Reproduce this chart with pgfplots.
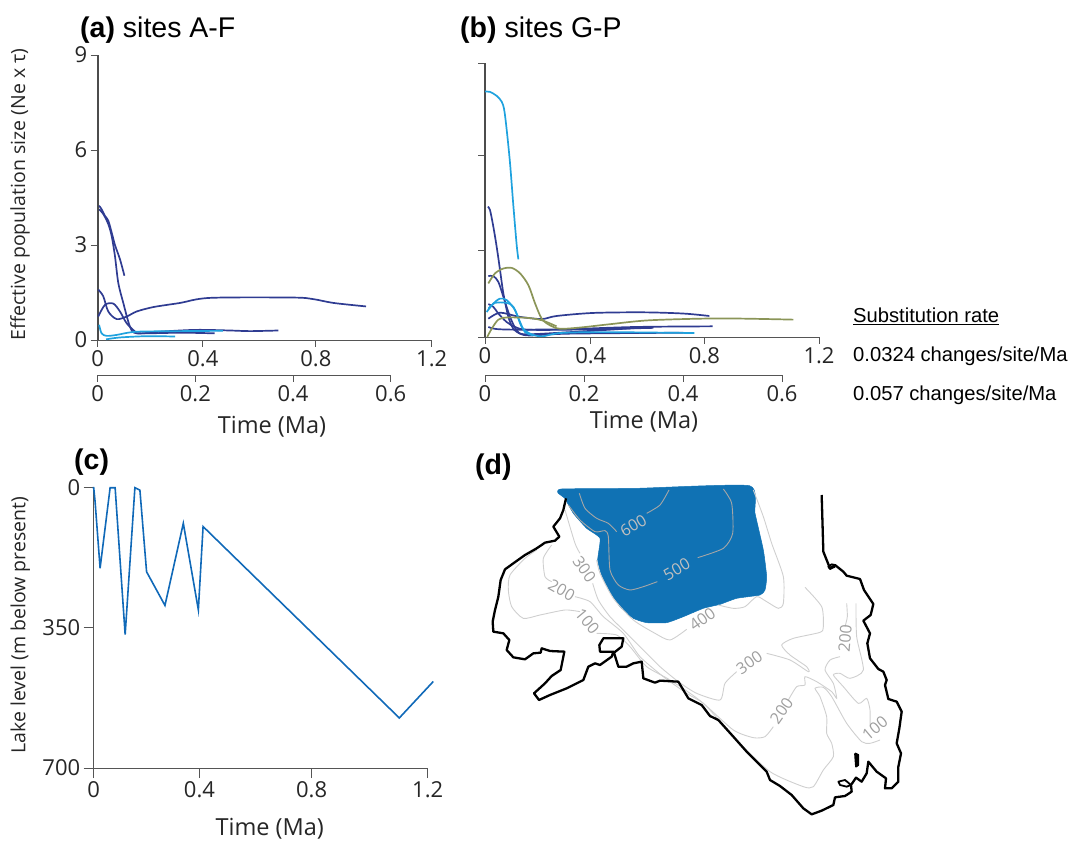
\documentclass[border=0pt]{standalone}
\usepackage{fontspec}
\usepackage{pgfplots}
\pgfplotsset{compat=1.18}
\setmainfont{Open Sans}
\newfontfamily\arialf{Liberation Sans}
\newcommand\tf{\fontsize{22}{26}\selectfont}
\newcommand\xf{\fontsize{23.5}{28}\selectfont}
\newcommand\yf{\fontsize{19.5}{24}\selectfont}
\newcommand\hf{\arialf\fontsize{28.5}{34}\selectfont}
\newcommand\lf{\arialf\fontsize{20.2}{24}\selectfont}
\newcommand\mf{\fontsize{16}{19}\selectfont}
\definecolor{dkb}{HTML}{2F3C92}
\definecolor{ltb}{HTML}{1FA2DE}
\definecolor{olv}{HTML}{8B9558}
\definecolor{lk}{HTML}{1069B8}
\definecolor{lakeb}{HTML}{1072B4}
\definecolor{cont}{HTML}{CFCFCF}
\definecolor{axg}{HTML}{555555}
\pgfplotsset{
  panel/.style={scale only axis, clip=false, axis x line=bottom, axis y line=left,
    x axis line style={-,color=axg,line width=0.9pt},
    y axis line style={-,color=black!70,line width=2.4pt},
    tick style={color=axg,line width=0.9pt}, tick align=outside,
    major tick length=7pt, minor tick length=0pt,
    tick label style={font=\tf,color=black!85},
    xlabel style={font=\xf,color=black!85},
    ylabel style={font=\yf,color=black!85},
    xmin=0,xmax=1.2},
  second/.style={scale only axis, clip=false, axis x line=bottom, axis y line=none,
    axis line style={-,color=axg,line width=0.9pt},
    tick style={color=axg,line width=0.9pt}, tick align=outside,
    major tick length=7pt,
    tick label style={font=\tf,color=black!85},
    xmin=0,xmax=0.6,ymin=0,ymax=1,height=1pt,
    xtick={0,0.2,0.4,0.6},xticklabels={0,0.2,0.4,0.6},
    ytick=\empty},
  dk/.style={color=dkb,line width=1.7pt,smooth,tension=0.5,no marks},
  lt/.style={color=ltb,line width=1.7pt,smooth,tension=0.5,no marks},
  ol/.style={color=olv,line width=1.7pt,smooth,tension=0.5,no marks},
  ct/.style={color=cont,line width=0.9pt,smooth,tension=0.4,no marks},
}
\begin{document}
\begin{tikzpicture}[x=1pt,y=1pt]
\path[use as bounding box] (0,0) rectangle (1073,843);

% ---------- panel a
\begin{axis}[panel,at={(97.7pt,503pt)},anchor=origin,width=334pt,height=285pt,
  ymin=0,ymax=9,ytick={0,3,6,9},yticklabels={0,3,6,9},
  xtick={0,0.378,0.784,1.2},xticklabels={0,0.4,0.8,1.2},
  xlabel={Time (Ma)},x label style={at={(axis description cs:0.522,-0.305)},anchor=center},
  ylabel={Effective population size (Ne x τ)},y label style={at={(axis description cs:-0.2326,0.51)},anchor=center,rotate=0}]
\addplot[dk] coordinates {(.005,4.24)(.014,4.13)(.026,3.92)(.038,3.77)(.05,3.4)(.062,3.0)(.08,2.55)(.096,2.03)};
\addplot[dk] coordinates {(.005,4.13)(.02,3.98)(.038,3.66)(.05,3.29)(.062,2.65)(.074,1.8)(.092,1.17)(.116,.42)(.14,.21)(.236,.27)(.356,.32)(.475,.3)(.547,.28)(.649,.3)};
\addplot[dk] coordinates {(.002,.74)(.026,1.11)(.056,1.15)(.08,.9)(.104,.53)(.134,.27)(.152,.21)(.3,.23)(.42,.21)};
\addplot[dk] coordinates {(.002,1.59)(.02,1.38)(.038,.9)(.068,.66)(.104,.74)(.14,.9)(.2,1.04)(.296,1.17)(.404,1.33)(.703,1.34)(.775,1.29)(.847,1.17)(.964,1.06)};
\addplot[lt] coordinates {(.005,.48)(.014,.21)(.032,.13)(.068,.16)(.116,.24)(.176,.27)(.45,.29)};
\addplot[lt] coordinates {(.03,.02)(.08,.08)(.176,.12)(.278,.11)};
\end{axis}
\begin{axis}[second,at={(97.7pt,468pt)},anchor=origin,width=293pt]
\addplot[draw=none] coordinates {(0,0)(0.6,0)};
\end{axis}

% ---------- panel b
\begin{axis}[panel,at={(485pt,506pt)},anchor=origin,width=334pt,height=274pt,
  ymin=0,ymax=9,ytick={0,2.84,5.96,9},yticklabels={,,,},
  xtick={0,0.38,0.788,1.2},xticklabels={0,0.4,0.8,1.2},
  xlabel={Time (Ma)},x label style={at={(axis description cs:0.476,-0.31)},anchor=center}]
\addplot[lt] coordinates {(0,8.06)(.018,8.05)(.042,7.92)(.06,7.73)(.069,7.46)(.078,6.8)(.09,5.7)(.102,4.3)(.114,3.0)(.12,2.55)};
\addplot[dk] coordinates {(.01,4.28)(.018,4.17)(.03,3.62)(.042,2.96)(.054,2.2)(.066,1.43)(.084,.66)(.102,.27)(.126,.11)(.162,.05)(.305,.11)(.713,.14)};
\addplot[dk] coordinates {(.012,2.0)(.03,2.0)(.048,1.81)(.066,1.32)(.09,.66)(.114,.22)(.144,.09)(.305,.16)(.605,.33)};
\addplot[dk] coordinates {(.012,1.08)(.03,.99)(.048,.77)(.078,.49)(.108,.33)(.15,.24)(.305,.24)(.605,.3)};
\addplot[dk] coordinates {(.012,.6)(.03,.71)(.054,.8)(.084,.75)(.126,.66)(.204,.59)(.257,.69)(.389,.79)(.569,.81)(.713,.77)(.806,.69)};
\addplot[dk] coordinates {(.012,.33)(.042,.26)(.126,.24)(.305,.26)(.545,.33)(.818,.35)};
\addplot[lt] coordinates {(.006,.82)(.03,1.1)(.054,1.26)(.078,1.21)(.108,.88)(.132,.33)(.162,.11)(.204,.02)(.27,.13)(.425,.16)(.752,.13)};
\addplot[lt] coordinates {(.012,.93)(.036,1.12)(.078,1.12)(.102,.99)(.126,.49)(.144,.16)(.174,.05)};
\addplot[ol] coordinates {(.012,1.76)(.036,2.09)(.066,2.25)(.096,2.27)(.126,2.09)(.156,1.7)(.18,1.1)(.204,.6)(.234,.38)(.27,.27)(.341,.31)(.449,.42)(.593,.55)(.844,.61)(1.108,.57)};
\addplot[ol] coordinates {(.008,0)(.024,.27)(.048,.57)(.078,.64)(.15,.63)(.204,.55)(.257,.35)};
\end{axis}
\begin{axis}[second,at={(485pt,468pt)},anchor=origin,width=297pt]
\addplot[draw=none] coordinates {(0,0)(0.6,0)};
\end{axis}

% ---------- panel c
\begin{axis}[panel,at={(93.7pt,75pt)},anchor=south west,width=334pt,height=280.3pt,
  y dir=reverse,ymin=0,ymax=700,
  y axis line style={-,color=axg,line width=0.9pt},
  major tick length=10pt,
  ytick={0,350,700},yticklabels={0,350,700},
  xtick={0,0.38,0.783,1.2},xticklabels={0,0.4,0.8,1.2},
  xlabel={Time (Ma)},x label style={at={(axis description cs:0.527,-0.215)},anchor=center},
  ylabel={Lake level (m below present)},y label style={at={(axis description cs:-0.22,0.51)},anchor=center,rotate=0}]
\addplot[color=lk,line width=1.6pt,no marks] coordinates {(-.004,0)(0,0)(.005,35)(.023,201)(.059,0)(.077,0)(.113,367)(.148,0)(.166,6)(.19,210)(.256,294)(.322,89)(.376,305)(.393,97)(1.098,575)(1.22,484)};
\end{axis}

% ---------- panel d (map)
\begin{axis}[at={(470pt,13pt)},anchor=south west,scale only axis,width=440pt,height=360pt,
  hide axis,clip=false,xmin=0,xmax=1320,ymin=0,ymax=1080,y dir=reverse]
\addplot[fill=lakeb,draw=lakeb,line width=.5pt,no marks,smooth,tension=0.3] coordinates {(265,70)(275,57)(500,55)(838,47)(855,130)(880,240)(890,320)(885,360)(870,375)(800,385)(750,403)(700,415)(640,440)(590,458)(530,458)(490,445)(450,410)(420,365)(395,315)(383,270)(390,205)(350,175)(310,130)(285,85)} --cycle;
% contours on the lake
\addplot[ct,color=black!35] coordinates {(328,70)(345,115)(380,145)(415,160)(440,185)};
\addplot[ct,color=black!35] coordinates {(530,130)(570,105)(597,60)};
\addplot[ct,color=black!35] coordinates {(760,57)(785,100)(788,190)(760,235)(683,263)};
\addplot[ct,color=black!35] coordinates {(562,335)(520,350)(480,360)(445,345)(420,300)(415,200)(405,182)(375,185)(330,150)(295,105)};
% contours off the lake
\addplot[ct] coordinates {(850,60)(880,140)(905,220)(940,320)(940,400)(925,415)(890,395)(860,380)(825,410)(790,415)(745,405)};
\addplot[ct] coordinates {(650,478)(600,510)(555,490)(490,450)(430,385)(390,310)(380,270)};
\addplot[ct] coordinates {(285,120)(315,220)(330,250)};
\addplot[ct] coordinates {(368,340)(385,390)(420,440)(470,490)(520,540)(570,590)(625,635)(680,670)(750,690)(765,640)(800,605)};
\addplot[ct] coordinates {(890,550)(960,570)(1015,605)(1010,590)(960,555)(935,525)(970,505)(1050,487)(1060,470)(1055,410)(1005,352)};
\addplot[ct] coordinates {(315,380)(360,395)(400,440)(460,490)(510,560)(580,620)(650,670)(700,700)(790,780)(850,803)(885,800)(910,770)};
\addplot[ct] coordinates {(955,690)(980,650)(1005,645)(1005,620)(1040,635)(1085,665)(1100,685)(1090,640)(1065,600)(1080,570)(1110,560)};
\addplot[ct] coordinates {(1125,470)(1132,440)(1130,400)};
\addplot[ct] coordinates {(245,225)(220,265)(225,320)(245,335)};
\addplot[ct] coordinates {(330,425)(285,420)(210,435)(160,445)(125,410)(115,360)(120,315)(165,265)(200,240)};
\addplot[ct] coordinates {(380,490)(440,495)(480,530)(530,590)(600,630)(700,700)(800,810)(900,905)(1000,950)(1030,950)(1060,900)(1090,860)(1085,820)(1070,790)(1070,740)(1050,680)(1035,655)(1060,652)(1085,680)(1130,760)(1175,815)(1200,820)(1230,810)};
\addplot[ct] coordinates {(1200,770)(1200,720)(1190,685)(1165,700)(1120,650)(1090,615)(1110,610)(1140,625)(1180,600)(1160,500)(1158,400)};
% shoreline
\addplot[color=black,line width=2.3pt,line join=round,no marks] coordinates {(288,85)(280,120)(270,145)(250,170)(268,200)(255,212)(225,218)(200,235)(165,255)(130,280)(105,298)(92,330)(85,380)(75,420)(68,455)(70,485)(100,490)(118,510)(110,540)(130,562)(165,568)(190,550)(212,548)(215,535)(240,543)(283,545)(272,600)(245,618)(225,640)(192,670)(207,690)(240,675)(290,655)(340,630)(355,590)(375,580)(390,585)(425,560)(430,545)(390,545)(388,525)(400,505)(460,505)(455,530)(432,548)(445,590)(470,590)(490,580)(515,575)(520,625)(555,638)(570,632)(625,635)(655,685)(695,705)(720,738)(745,750)(790,800)(830,845)(890,905)(900,930)(930,948)(965,975)(1000,1015)(1025,1033)(1055,1022)(1090,1005)(1095,982)(1125,978)(1145,965)(1143,945)(1158,923)(1175,935)(1190,910)(1195,875)(1220,905)(1248,925)(1245,955)(1265,955)(1285,935)(1285,890)(1293,850)(1280,820)(1288,775)(1295,725)(1280,695)(1255,687)(1245,645)(1250,630)(1240,605)(1225,597)(1200,565)(1192,520)(1200,490)(1180,452)(1202,435)(1210,402)(1182,360)(1170,327)(1130,317)(1120,305)(1095,285)(1080,295)(1070,270)(1060,245)(1055,75)};
\addplot[color=black,line width=1.8pt,line join=round,no marks] coordinates {(1143,945)(1125,930)(1105,935)(1110,945)(1130,950)(1143,945)};
\addplot[color=black,line width=1.8pt,line join=round,fill=black,no marks] coordinates {(1155,850)(1165,855)(1165,885)(1158,890)(1155,850)};
\addplot[color=black,line width=1.8pt,line join=round,no marks] coordinates {(1095,285)(1085,283)(1075,290)(1080,297)(1095,290)};
% contour labels
\node[font=\mf,color=black!25,rotate=30] at (axis cs:490,167) {600};
\node[font=\mf,color=black!25,rotate=30] at (axis cs:620,298) {500};
\node[font=\mf,color=black!38,rotate=35] at (axis cs:697,447) {400};
\node[font=\mf,color=black!38,rotate=-55] at (axis cs:343,297) {300};
\node[font=\mf,color=black!38,rotate=-30] at (axis cs:275,360) {200};
\node[font=\mf,color=black!38,rotate=-50] at (axis cs:352,455) {100};
\node[font=\mf,color=black!38,rotate=35] at (axis cs:838,578) {300};
\node[font=\mf,color=black!38,rotate=55] at (axis cs:935,722) {200};
\node[font=\mf,color=black!38,rotate=85] at (axis cs:1125,505) {200};
\node[font=\mf,color=black!38,rotate=40] at (axis cs:1215,775) {100};
\end{axis}

% ---------- headings and substitution-rate key
\node[font=\hf,anchor=west,inner sep=0pt] at (80,813) {\textbf{(a)} sites A-F};
\node[font=\hf,anchor=west,inner sep=0pt] at (460,813) {\textbf{(b)} sites G-P};
\node[font=\hf,anchor=west,inner sep=0pt] at (74,381) {\textbf{(c)}};
\node[font=\hf,anchor=west,inner sep=0pt] at (475,376) {\textbf{(d)}};
\node[font=\lf,anchor=west,inner sep=0pt] at (853,527) {\underline{Substitution rate}};
\node[font=\lf,anchor=west,inner sep=0pt] at (853,487) {0.0324 changes/site/Ma};
\node[font=\lf,anchor=west,inner sep=0pt] at (853,448) {0.057 changes/site/Ma};
\end{tikzpicture}
\end{document}
